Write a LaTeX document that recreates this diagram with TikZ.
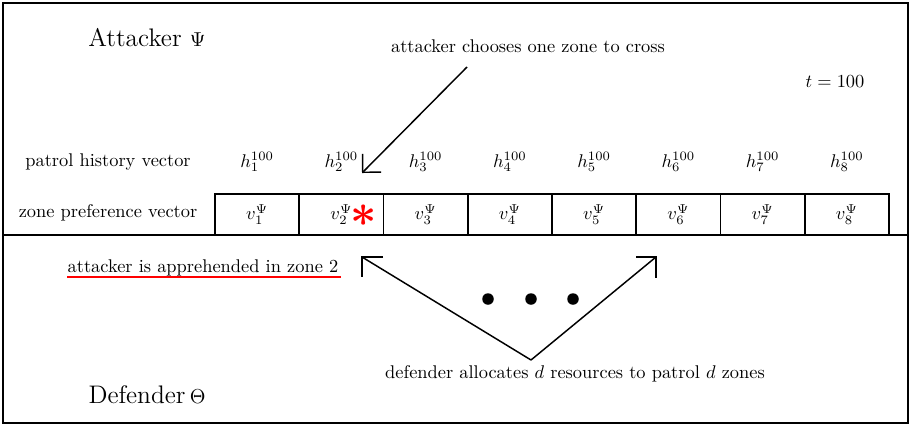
\documentclass[tikz,border=0pt]{standalone}
\usetikzlibrary{arrows.meta,calc}
\begin{document}
\begin{tikzpicture}[x=0.5435pt,y=-0.5435pt,
  cell/.style={draw,line width=0.9pt,minimum width=84.25*0.5435pt,minimum height=41*0.5435pt,inner sep=0pt,anchor=center},
  lbl/.style={inner sep=1pt,font=\fontsize{10}{12}\selectfont},
  big/.style={inner sep=1pt,font=\fontsize{13.8}{16}\selectfont},
  arr/.style={line width=0.8pt},
  dot/.style={circle,fill,inner sep=0pt,minimum size=11.5*0.5435pt},
  redstar/.style={inner sep=0pt,text=red,font=\fontsize{24}{24}\selectfont\boldmath}]
\useasboundingbox (0,0) rectangle (911,426);
\draw[line width=1.1pt] (3,3) rectangle (908,423);
\draw[line width=0.9pt] (3,235) -- (908,235);
% cells
\foreach \i in {1,...,8}{
  \pgfmathsetmacro\cx{215+84.25*(\i-0.5)}
  \node[cell] (c\i) at (\cx,214.5) {$v_{\i}^{\Psi}$};
  \node[lbl] (h\i) at (\cx,162) {$h_{\i}^{100}$};
}
\node[redstar] (star) at (364,216) {$\ast$};
\node[lbl] (phv) at (108,162) {patrol history vector};
\node[lbl] (zpv) at (108,213) {zone preference vector};
\node[big] (att) at (147,38) {Attacker {\fontsize{10.5}{12}\selectfont$\Psi$}};
\node[big] (def) at (147,395) {Defender\,{\fontsize{10.5}{12}\selectfont$\Theta$}};
\node[lbl] (choose) at (528,46) {attacker chooses one zone to cross};
\node[lbl] (tt) at (835,82) {$t=100$};
\node[lbl] (app) at (203,268) {attacker is apprehended in zone 2};
\draw[red,line width=0.8pt] (67,277) -- (341,277);
\node[lbl] (alloc) at (575,374) {defender allocates $d$ resources to patrol $d$ zones};
% attacker arrow
\coordinate (as) at (467,67);
\coordinate (at) at (362,173);
\draw[arr,-{Straight Barb[angle=90:10pt,line width=0.8pt]}] (as) -- (at);
% defender arrows
\coordinate (ap) at (531,360);
\coordinate (tl) at (362,257);
\coordinate (tr) at (656,257);
\draw[arr] (ap) -- (tl);
\draw[arr] (ap) -- (tr);
\draw[arr] ($(tl)+(21,0)$) -- (tl) -- ($(tl)+(0,20)$);
\draw[arr] ($(tr)+(-20,0)$) -- (tr) -- ($(tr)+(0,21)$);
\node[dot] (d1) at (488,299) {};
\node[dot] (d2) at (531,299) {};
\node[dot] (d3) at (573,299) {};
\end{tikzpicture}
\end{document}
